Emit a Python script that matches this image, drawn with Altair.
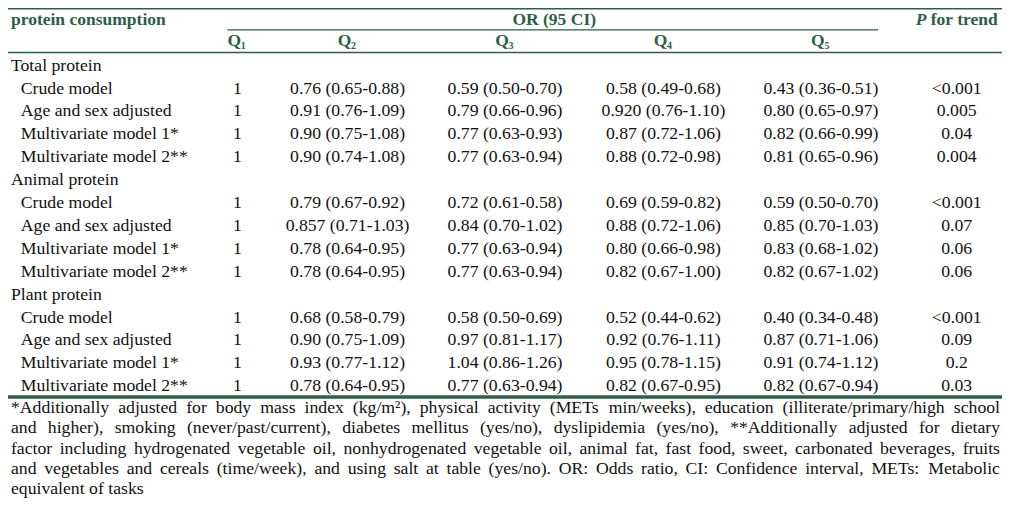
import altair as alt
import pandas as pd

# ---------------- data ----------------
groups = ["Total protein", "Animal protein", "Plant protein"]
models = ["Crude model", "Age and sex adjusted", "Multivariate model 1*", "Multivariate model 2**"]
quintiles = ["1", "2", "3", "4", "5"]

q1_ref = ["1", "1", "1", "1"]

total_q2 = ["0.76 (0.65-0.88)", "0.91 (0.76-1.09)", "0.90 (0.75-1.08)", "0.90 (0.74-1.08)"]
total_q3 = ["0.59 (0.50-0.70)", "0.79 (0.66-0.96)", "0.77 (0.63-0.93)", "0.77 (0.63-0.94)"]
total_q4 = ["0.58 (0.49-0.68)", "0.920 (0.76-1.10)", "0.87 (0.72-1.06)", "0.88 (0.72-0.98)"]
total_q5 = ["0.43 (0.36-0.51)", "0.80 (0.65-0.97)", "0.82 (0.66-0.99)", "0.81 (0.65-0.96)"]
total_p = ["<0.001", "0.005", "0.04", "0.004"]

animal_q2 = ["0.79 (0.67-0.92)", "0.857 (0.71-1.03)", "0.78 (0.64-0.95)", "0.78 (0.64-0.95)"]
animal_q3 = ["0.72 (0.61-0.58)", "0.84 (0.70-1.02)", "0.77 (0.63-0.94)", "0.77 (0.63-0.94)"]
animal_q4 = ["0.69 (0.59-0.82)", "0.88 (0.72-1.06)", "0.80 (0.66-0.98)", "0.82 (0.67-1.00)"]
animal_q5 = ["0.59 (0.50-0.70)", "0.85 (0.70-1.03)", "0.83 (0.68-1.02)", "0.82 (0.67-1.02)"]
animal_p = ["<0.001", "0.07", "0.06", "0.06"]

plant_q2 = ["0.68 (0.58-0.79)", "0.90 (0.75-1.09)", "0.93 (0.77-1.12)", "0.78 (0.64-0.95)"]
plant_q3 = ["0.58 (0.50-0.69)", "0.97 (0.81-1.17)", "1.04 (0.86-1.26)", "0.77 (0.63-0.94)"]
plant_q4 = ["0.52 (0.44-0.62)", "0.92 (0.76-1.11)", "0.95 (0.78-1.15)", "0.82 (0.67-0.95)"]
plant_q5 = ["0.40 (0.34-0.48)", "0.87 (0.71-1.06)", "0.91 (0.74-1.12)", "0.82 (0.67-0.94)"]
plant_p = ["<0.001", "0.09", "0.2", "0.03"]

footnotes = [
    "*Additionally adjusted for body mass index (kg/m\u00b2), physical activity (METs min/weeks), education (illiterate/primary/high school",
    "and higher), smoking (never/past/current), diabetes mellitus (yes/no), dyslipidemia (yes/no), **Additionally adjusted for dietary",
    "factor including hydrogenated vegetable oil, nonhydrogenated vegetable oil, animal fat, fast food, sweet, carbonated beverages, fruits",
    "and vegetables and cereals (time/week), and using salt at table (yes/no). OR: Odds ratio, CI: Confidence interval, METs: Metabolic",
    "equivalent of tasks",
]

group_cols = [
    [q1_ref, total_q2, total_q3, total_q4, total_q5, total_p],
    [q1_ref, animal_q2, animal_q3, animal_q4, animal_q5, animal_p],
    [q1_ref, plant_q2, plant_q3, plant_q4, plant_q5, plant_p],
]

# ---------------- table layout (scales) ----------------
W, H = 994, 495
SX, SY = W / 1010, H / 511
# column index -> horizontal position (piecewise linear scale)
XD = [-0.5, 0, 1, 1.5, 2, 3, 4, 4.5, 5, 6, 6.5, 7, 7.5]
XR = [v * SX for v in [0, 3, 13, 223, 233, 345, 505, 555, 666, 826, 884, 964, 1010]]
# row index -> vertical position (piecewise linear scale)
YD = [-0.5, 0, 0.5, 1, 1.5, 2, 16, 16.5, 17, 21]
YR = [v * SY for v in [0.75, 12.5, 22.5, 34, 46, 59.5, 390.5, 401.5, 413, 497]]

xs = alt.Scale(domain=XD, range=XR)
ys = alt.Scale(domain=YD, range=YR)
fxs = alt.Scale(domain=[0, W], range=[0, W])

GREEN = "#2e5e47"
INK = "#111111"
FONT = "Liberation Serif"
FS = 17.7
FSB = 17.5
FSF = 17.7

# build rows
label_rows, cell_rows = [], []
r = 2
for g, cols in zip(groups, group_cols):
    label_rows.append({"row": r, "col": 0, "text": g})
    r += 1
    for i, m in enumerate(models):
        label_rows.append({"row": r, "col": 1, "text": m})
        for c, colvals in enumerate(cols):
            cell_rows.append({"row": r, "col": 2 + c, "text": colvals[i]})
        r += 1

labels_df = pd.DataFrame(label_rows)
cells_df = pd.DataFrame(cell_rows)

# justified footnote: word-by-word layout from Times/Liberation Serif advance widths
TW = {" ": 250, "!": 333, "(": 333, ")": 333, "*": 500, ",": 250, "-": 333, ".": 250, "/": 278,
      ":": 278, ";": 278, "\u00b2": 300,
      "A": 722, "B": 667, "C": 667, "D": 722, "E": 611, "F": 556, "G": 722, "H": 722, "I": 333,
      "J": 389, "K": 722, "L": 611, "M": 889, "N": 722, "O": 722, "P": 556, "Q": 722, "R": 667,
      "S": 556, "T": 611, "U": 722, "V": 722, "W": 944, "X": 722, "Y": 722, "Z": 611,
      "a": 444, "b": 500, "c": 444, "d": 500, "e": 444, "f": 333, "g": 500, "h": 500, "i": 278,
      "j": 278, "k": 500, "l": 278, "m": 778, "n": 500, "o": 500, "p": 500, "q": 500, "r": 333,
      "s": 389, "t": 278, "u": 500, "v": 500, "w": 722, "x": 500, "y": 500, "z": 444}

def tw(s, size):
    return sum(TW.get(ch, 500) for ch in s) * size / 1000.0

left, right = 3 * SX, 1008 * SX
foot_rows = []
for li, line in enumerate(footnotes):
    words = line.split(" ")
    widths = [tw(w, FSF) for w in words]
    last = li == len(footnotes) - 1
    gap = tw(" ", FSF) if last or len(words) < 2 else (right - left - sum(widths)) / (len(words) - 1)
    pos = left
    for w, wd in zip(words, widths):
        foot_rows.append({"row": 17 + li, "fx": pos, "text": w})
        pos += wd + gap
foot_df = pd.DataFrame(foot_rows)

head_left = pd.DataFrame({"row": [0], "col": [0], "text": ["protein consumption"]})
head_or = pd.DataFrame({"row": [0], "col": [4.5], "text": ["OR (95 CI)"]})
head_q = pd.DataFrame({"row": 1, "col": [2, 3, 4, 5, 6], "text": "Q", "sub": quintiles})
head_p = pd.DataFrame({"row": [0], "col": [7], "text": ["P"]})
head_trend = pd.DataFrame({"row": [0], "col": [7], "text": ["for trend"]})

rules_df = pd.DataFrame({
    "row": [-0.5, 0.5, 1.5, 16.5],
    "c1": [-0.5, 1.5, -0.5, -0.5],
    "c2": [7.5, 6.5, 7.5, 7.5],
    "w": [1.6, 1.2, 1.6, 3.6],
})

def X(field="col", scale=xs):
    return alt.X(f"{field}:Q", scale=scale, axis=None)

Y = alt.Y("row:Q", scale=ys, axis=None)

rules = alt.Chart(rules_df).mark_rule(color=GREEN).encode(
    x=X("c1"), x2="c2:Q", y=Y, strokeWidth=alt.StrokeWidth("w:Q", scale=None)
)

def txt(df, align="center", bold=False, color=INK, size=FS, italic=False, dx=0, dy=0,
        field="text", xfield="col", scale=xs):
    return alt.Chart(df).mark_text(
        align=align, baseline="middle", font=FONT, fontSize=size,
        fontWeight="bold" if bold else "normal",
        fontStyle="italic" if italic else "normal",
        color=color, dx=dx, dy=dy,
    ).encode(x=X(xfield, scale), y=Y, text=f"{field}:N")

layers = [
    rules,
    txt(head_left, align="left", bold=True, color=GREEN, size=FSB),
    txt(head_or, bold=True, color=GREEN, size=FSB),
    txt(head_q, bold=True, color=GREEN, size=FSB, dx=-3),
    txt(head_q, bold=True, color=GREEN, size=10, dx=6, dy=5, field="sub"),
    txt(head_p, align="left", bold=True, italic=True, color=GREEN, size=FSB, dx=-41),
    txt(head_trend, align="left", bold=True, color=GREEN, size=FSB, dx=-26),
    txt(labels_df, align="left"),
    txt(cells_df),
    txt(foot_df, align="left", size=FSF, xfield="fx", scale=fxs),
]

chart = alt.layer(*layers).resolve_scale(x="independent").properties(
    width=W, height=H, padding=0, autosize=alt.AutoSizeParams(type="none"),
    background="white",
).configure_view(stroke=None)

chart.save("out.html", embed_options={"renderer": "svg", "actions": False})
